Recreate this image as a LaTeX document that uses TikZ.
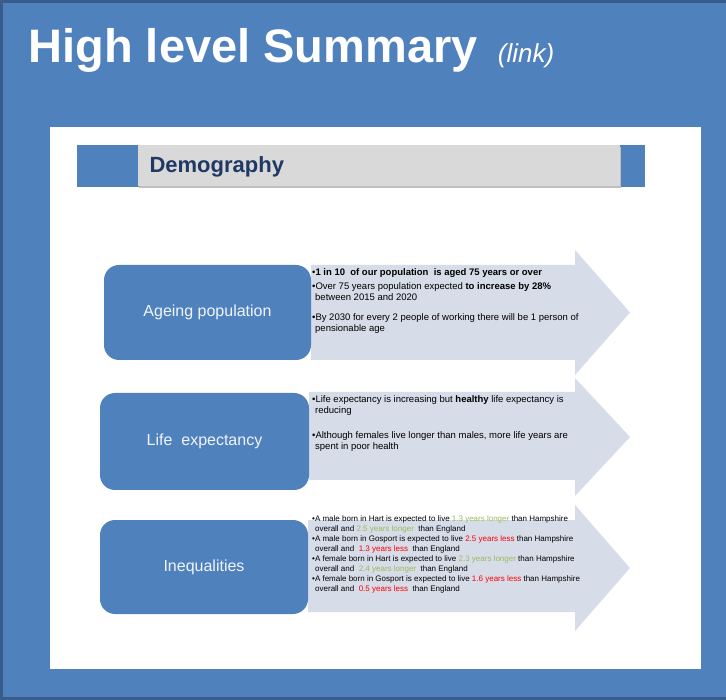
\documentclass[tikz,border=0pt]{standalone}
\usepackage{fontspec}
\setmainfont{Liberation Sans}
\usepackage{tikz}
\usetikzlibrary{positioning, calc}
\definecolor{slideblue}{RGB}{79,129,189}
\definecolor{framedark}{RGB}{56,93,138}
\definecolor{arrowgrey}{RGB}{214,220,232}
\definecolor{headgrey}{RGB}{217,217,217}
\definecolor{navy}{RGB}{31,56,100}
\definecolor{goodgreen}{RGB}{155,187,89}
\definecolor{badred}{RGB}{255,0,0}
\tikzstyle{topic}=[fill=slideblue,rounded corners=15pt,text=white!92!slideblue,font=\fontsize{16}{19}\selectfont,inner sep=0pt]
\tikzstyle{note}=[anchor=base west,align=left,inner sep=0pt,font=\fontsize{9.5}{10.5}\selectfont]
\tikzstyle{smallnote}=[note,font=\fontsize{8}{9.5}\selectfont]
\tikzstyle{band}=[fill=arrowgrey]

\begin{document}
\begin{tikzpicture}[x=1pt,y=-1pt]
\useasboundingbox (0,0) rectangle (726,700);
\fill[slideblue] (0,0) rectangle (726,700);
\draw[framedark,line width=3pt] (1.5,700) -- (1.5,2) -- (726,2);
\draw[framedark,line width=3pt] (0,698.5) -- (726,698.5);
\node[anchor=base west,text=white,font=\fontsize{47}{50}\selectfont\bfseries] (title) at (25,63) {High level Summary};
\node[anchor=base west,text=white,font=\fontsize{26}{28}\selectfont\itshape] (link) at ([xshift=13pt]title.base east) {(link)};
\fill[white] (50,127) rectangle (701,669);
\fill[slideblue] (77,145) rectangle (645,187);
\fill[black!25] (139,147) rectangle (621,188);
\fill[headgrey] (138,145) rectangle (620,186);
\node[anchor=west,text=navy,font=\fontsize{22}{24}\selectfont\bfseries] (demo) at (146,167) {Demography};
\fill[band] (311,265) -- (575,265) -- (575,250) -- (630,312.5) -- (575,375) -- (575,360) -- (311,360) -- cycle;
\fill[band] (309,392) -- (575,392) -- (575,378) -- (630,437) -- (575,496) -- (575,480) -- (309,480) -- cycle;
\fill[band] (308,520) -- (575,520) -- (575,505) -- (630,568) -- (575,631) -- (575,612) -- (308,612) -- cycle;
\node[topic,minimum width=207pt,minimum height=95pt] (ageing) at (207.5,312.5) {Ageing population};
\node[topic,minimum width=209pt,minimum height=97pt] (life) at (204.5,441.5) {Life\ \ expectancy};
\node[topic,minimum width=208pt,minimum height=94pt] (inequal) at (204,567) {Inequalities};
\node[note] (age1) at (312,275.5) {\textbullet\textbf{1 in 10\ \ of our population\ \ is aged 75 years or over}};
\node[note] (age2) at (312,300.5) {\textbullet Over 75 years population expected \textbf{to increase by 28\%}\\\hspace*{3pt}between 2015 and 2020};
\node[note] (age3) at (312,331.5) {\textbullet By 2030 for every 2 people of working there will be 1 person of\\\hspace*{3pt}pensionable age};
\node[note] (life1) at (312,413.5) {\textbullet Life expectancy is increasing\ but \textbf{healthy} life expectancy is\\\hspace*{3pt}reducing};
\node[note] (life2) at (312,449.5) {\textbullet Although females live longer than males, more life years are\\\hspace*{3pt}spent in poor health};
\node[smallnote] (ineq1) at (312,531) {\textbullet A male born\ in Hart is expected\ to live\ \textcolor{goodgreen}{1.3 years longer}\ than\ Hampshire\\\hspace*{3pt}overall\ and\ \textcolor{goodgreen}{2.5 years longer}\ \ than England};
\node[smallnote] (ineq2) at (312,551) {\textbullet A male born\ in Gosport is expected\ to live\ \textcolor{badred}{2.5 years less}\ than\ Hampshire\\\hspace*{3pt}overall\ and\ \ \textcolor{badred}{1.3 years less}\ \ than England};
\node[smallnote] (ineq3) at (312,571) {\textbullet A female born\ in Hart is expected\ to live\ \textcolor{goodgreen}{2.3 years longer}\ than\ Hampshire\\\hspace*{3pt}overall\ and\ \ \textcolor{goodgreen}{2.4 years longer}\ \ than England};
\node[smallnote] (ineq4) at (312,591) {\textbullet A female born\ in Gosport is expected\ to live\ \textcolor{badred}{1.6 years less}\ than Hampshire\\\hspace*{3pt}overall\ and\ \ \textcolor{badred}{0.5 years less}\ \ than England};
\end{tikzpicture}
\end{document}
